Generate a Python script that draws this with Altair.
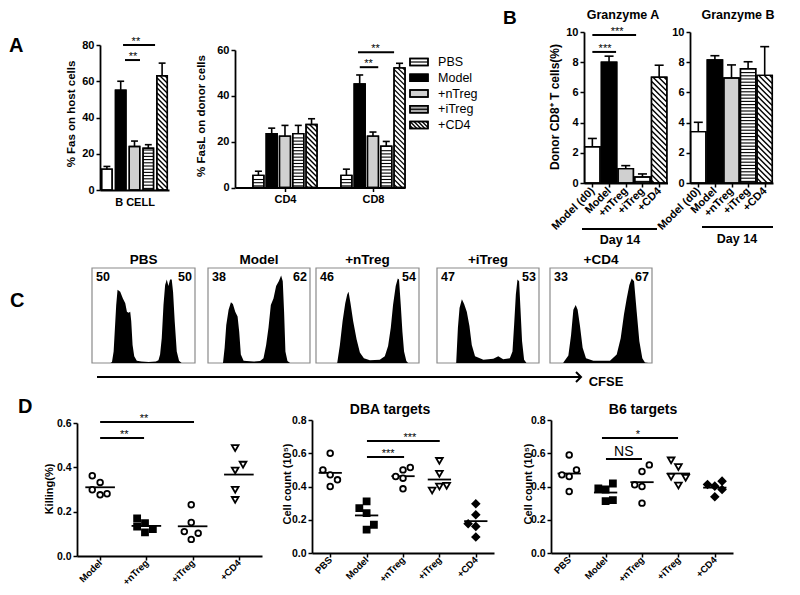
import altair as alt
import numpy as np
import pandas as pd

FONT = "Liberation Sans"
W, H = 784, 579

# ======================= values =======================
# ---- Panel A ----
bar_groups = ["PBS", "Model", "+nTreg", "+iTreg", "+CD4"]
fas_bcell_mean = [11.5, 55.0, 24.0, 23.0, 63.0]
fas_bcell_sem = [1.5, 5.0, 3.0, 2.0, 7.0]
fasl_subsets = ["CD4", "CD8"]
fasl_cd4_mean = [5.3, 23.5, 22.4, 23.5, 27.5]
fasl_cd4_sem = [1.8, 2.4, 4.7, 3.6, 2.5]
fasl_cd8_mean = [5.3, 45.2, 22.4, 18.0, 52.2]
fasl_cd8_sem = [2.7, 3.9, 1.8, 2.1, 2.0]

# ---- Panel B ----
gz_groups = ["Model (d0)", "Model", "+nTreg", "+iTreg", "+CD4"]
gza_mean = [2.4, 8.0, 0.95, 0.4, 7.0]
gza_sem = [0.55, 0.4, 0.2, 0.2, 0.8]
gzb_mean = [3.4, 8.15, 6.95, 7.57, 7.13]
gzb_sem = [0.62, 0.28, 0.87, 0.46, 1.9]

# ---- Panel C (CFSE histograms: position % of axis, height % of max) ----
cfse_titles = ["PBS", "Model", "+nTreg", "+iTreg", "+CD4"]
cfse_left_pct = [50, 38, 46, 47, 33]
cfse_right_pct = [50, 62, 54, 53, 67]
pbs_x = [18, 19.4, 21, 23.5, 24.8, 27.4, 30, 32.3, 33.9, 35.5, 37.1, 38.1, 39.4, 41, 43.5, 48,
         55, 62, 64.5, 66.1, 67.7, 69.4, 71, 72.6, 74.2, 75.8, 77.4, 78.7, 80.3, 82.3, 84.5, 87]
pbs_h = [0, 1, 12, 61, 77, 75, 68, 63, 54, 53, 54, 44, 19, 7, 2.5, 1.5,
         1, 1.5, 3, 9, 26, 61, 82, 88, 81, 88, 88, 75, 44, 12, 2.5, 0]
model_x = [14.7, 16.3, 17.9, 20.2, 22.5, 24.4, 26.7, 29, 30.6, 32.2, 34.9, 38, 44.6, 51.1,
           54.4, 57, 59.3, 61.6, 64.2, 66.8, 69.4, 71.7, 73.3, 74.6, 75.9, 77.9, 80.5]
model_h = [0, 16, 40, 56, 64, 62, 54, 49, 33, 9, 2.5, 2, 1.5, 2,
           5, 19, 37, 61, 68, 81, 86, 92, 86, 54, 12, 2, 0]
ntreg_x = [20.6, 23.2, 25.8, 28.4, 30.3, 31.6, 33.5, 36.1, 39.4, 42.6, 46.5, 52.3, 61.9,
           66.8, 70, 72.6, 74.8, 77.4, 79.4, 80.6, 82.3, 83.9, 85.5, 87.7, 89.4]
ntreg_h = [0, 19, 44, 63, 72, 75, 63, 44, 25, 11, 5, 3, 3.5,
           7, 18, 37, 61, 81, 89, 88, 61, 33, 12, 2, 0]
itreg_x = [18.8, 20.5, 22.1, 24.4, 26.6, 29.2, 31.8, 34.1, 37.3, 45.5, 55.2, 60.1, 64.9,
           71.4, 74, 75.6, 77.3, 78.9, 80.5, 81.8, 83.4, 85.4, 87.7]
itreg_h = [0, 37, 58, 67, 62, 54, 39, 19, 7, 3.5, 4.5, 7, 4,
           5, 12, 40, 72, 88, 86, 58, 23, 3.5, 0]
cd4_x = [13.1, 18, 20.6, 22.9, 25.2, 27.1, 29.4, 32, 35.3, 42.5, 58.8, 65.4, 69.3,
         72.5, 75.2, 77.8, 80.1, 82.4, 85, 87.6, 90.5, 93.1, 96.4]
cd4_h = [0.5, 8, 29, 56, 61, 56, 39, 16, 5, 2.5, 2.5, 9, 26,
         51, 68, 82, 89, 86, 54, 23, 5, 0.5, 0]

# ---- Panel D (values; dx = horizontal scatter within group, in group widths) ----
kill_groups = ["Model", "+nTreg", "+iTreg", "+CD4"]
kill_model = [0.362, 0.332, 0.299, 0.276, 0.281]
kill_model_dx = [-0.17, 0.0, -0.17, 0.0, 0.15]
kill_ntreg = [0.170, 0.148, 0.121, 0.133, 0.107]
kill_ntreg_dx = [-0.2, -0.03, 0.14, -0.2, -0.03]
kill_itreg = [0.231, 0.151, 0.110, 0.103, 0.075]
kill_itreg_dx = [-0.03, -0.03, -0.18, 0.12, -0.03]
kill_cd4 = [0.487, 0.412, 0.386, 0.299, 0.253]
kill_cd4_dx = [-0.08, 0.09, -0.08, -0.08, -0.08]

target_groups = ["PBS", "Model", "+nTreg", "+iTreg", "+CD4"]
dba_pbs = [0.60, 0.50, 0.47, 0.44, 0.40]
dba_pbs_dx = [0.0, -0.2, 0.0, 0.2, 0.0]
dba_model = [0.31, 0.27, 0.24, 0.17, 0.14]
dba_model_dx = [0.0, -0.2, 0.0, 0.2, 0.0]
dba_ntreg = [0.46, 0.50, 0.514, 0.45, 0.386]
dba_ntreg_dx = [-0.2, 0.0, 0.2, 0.0, 0.0]
dba_itreg = [0.554, 0.476, 0.40, 0.376, 0.404]
dba_itreg_dx = [0.0, 0.0, 0.0, -0.2, 0.2]
dba_cd4 = [0.296, 0.23, 0.176, 0.16, 0.096]
dba_cd4_dx = [0.0, 0.0, -0.21, 0.0, 0.0]

b6_pbs = [0.59, 0.47, 0.46, 0.50, 0.37]
b6_pbs_dx = [0.0, -0.2, 0.0, 0.2, 0.0]
b6_model = [0.388, 0.382, 0.418, 0.312, 0.318]
b6_model_dx = [-0.2, 0.0, 0.2, 0.0, 0.2]
b6_ntreg = [0.53, 0.49, 0.41, 0.40, 0.30]
b6_ntreg_dx = [0.2, 0.0, -0.2, 0.0, 0.0]
b6_itreg = [0.557, 0.517, 0.458, 0.452, 0.406]
b6_itreg_dx = [-0.2, 0.0, -0.2, 0.2, 0.0]
b6_cd4 = [0.412, 0.402, 0.432, 0.382, 0.338]
b6_cd4_dx = [-0.2, 0.0, 0.2, 0.2, 0.0]

# ============================ helpers ============================
def P(v):
    return v - 8.0


def qs(dom, r0, r1):
    return alt.Scale(domain=list(dom), range=[P(r0), P(r1)], nice=False, zero=False)


def label_expr(pairs):
    e = "''"
    for v, lab in reversed(pairs):
        e = "round(datum.value) == %d ? '%s' : (%s)" % (v, lab, e)
    return e


BASE_AX = dict(title=None, grid=False, domainColor="black", tickColor="black",
               labelColor="black", labelFont=FONT, labelFontWeight="bold",
               labelOverlap=False, labelFlush=False)


def y_axis(xpage, values, fmt, size=11):
    return alt.Axis(orient="left", offset=-P(xpage), values=values, format=fmt,
                    labelFontSize=size, domainWidth=1.8, tickWidth=1.5, tickSize=4,
                    labelPadding=2, **BASE_AX)


def x_axis(ypage, pairs, angle=0, ticks=True, size=11, pad=2):
    kw = dict(orient="bottom", offset=P(ypage) - H, values=[p[0] for p in pairs],
              labelExpr=label_expr(pairs), labelAngle=angle, labelFontSize=size,
              domainWidth=1.8, ticks=ticks, tickWidth=1.5, tickSize=4 if ticks else 0,
              labelPadding=pad)
    if angle != 0:
        kw.update(labelAlign="right", labelBaseline="middle")
    return alt.Axis(**kw, **BASE_AX)


def hline_rows(xl, xr, yt, yb, hpx, period):
    rows = []
    n = int(hpx // period)
    for k in range(n):
        ytop = hpx - (k + 0.5) * period
        rows.append({"a": xl, "b": xr, "y": yt + (yb - yt) * ytop / hpx})
    return rows


def diag_rows(xl, xr, yt, yb, wpx, hpx, period):
    rows = []
    k = -wpx + period / 2.0
    while k < hpx:
        xs, xe = max(0.0, -k), min(wpx, hpx - k)
        if xe > xs + 0.3:
            rows.append({"a": xl + (xr - xl) * xs / wpx, "b": xl + (xr - xl) * xe / wpx,
                         "ya": yt + (yb - yt) * (xs + k) / hpx,
                         "yb": yt + (yb - yt) * (xe + k) / hpx})
        k += period
    return rows


FILL = {"open": "white", "solid": "black", "gray": "#d0d0d0", "hline": "white", "diag": "white"}


def bar_panel(pos, means, sems, styles, xdom, xpx, ydom, ypx, hw, cap, xax, yax,
              hperiod=3.2, dperiod=5.0):
    xsc, ysc = qs(xdom, *xpx), qs(ydom, *ypx)
    ppx = (xpx[1] - xpx[0]) / (xdom[1] - xdom[0])
    ppy = (ypx[0] - ypx[1]) / (ydom[1] - ydom[0])
    df = pd.DataFrame({"pos": pos, "m": means, "s": sems, "style": styles})
    df["x0"], df["x1"] = df["pos"] - hw, df["pos"] + hw
    df["cl"], df["cr"] = df["pos"] - cap, df["pos"] + cap
    df["top"] = df["m"] + df["s"]
    df["base"] = 0.0
    df["fillc"] = df["style"].map(FILL)
    stripes, diags = [], []
    for r in df.itertuples():
        wpx, hpx = 2 * hw * ppx, r.m * ppy
        if r.style == "hline":
            stripes += hline_rows(r.x0, r.x1, r.m, 0.0, hpx, hperiod)
        if r.style == "diag":
            diags += diag_rows(r.x0, r.x1, r.m, 0.0, wpx, hpx, dperiod)
    out = [alt.Chart(df).mark_bar(stroke="black", strokeWidth=1.4).encode(
        x=alt.X("x0:Q", scale=xsc, axis=xax), x2="x1:Q",
        y=alt.Y("m:Q", scale=ysc, axis=yax), y2="base:Q",
        fill=alt.Fill("fillc:N", scale=None))]
    if stripes:
        out.append(alt.Chart(pd.DataFrame(stripes)).mark_rule(color="black", strokeWidth=1.1).encode(
            x=alt.X("a:Q", scale=xsc, axis=None), x2="b:Q", y=alt.Y("y:Q", scale=ysc, axis=None)))
    if diags:
        out.append(alt.Chart(pd.DataFrame(diags)).mark_rule(color="black", strokeWidth=1.4).encode(
            x=alt.X("a:Q", scale=xsc, axis=None), x2="b:Q",
            y=alt.Y("ya:Q", scale=ysc, axis=None), y2="yb:Q"))
    out.append(alt.Chart(df).mark_bar(fill="white", fillOpacity=0, stroke="black", strokeWidth=1.4).encode(
        x=alt.X("x0:Q", scale=xsc, axis=None), x2="x1:Q",
        y=alt.Y("m:Q", scale=ysc, axis=None), y2="base:Q"))
    out.append(alt.Chart(df).mark_rule(color="black", strokeWidth=1.6).encode(
        x=alt.X("pos:Q", scale=xsc, axis=None), y=alt.Y("m:Q", scale=ysc, axis=None), y2="top:Q"))
    out.append(alt.Chart(df).mark_rule(color="black", strokeWidth=1.6).encode(
        x=alt.X("cl:Q", scale=xsc, axis=None), x2="cr:Q", y=alt.Y("top:Q", scale=ysc, axis=None)))
    return out, xsc, ysc


def sig_layers(xsc, ysc, x1, x2, y, tx, ty, labels, size=11, weight="normal"):
    ln = pd.DataFrame({"a": x1, "b": x2, "y": y})
    tt = pd.DataFrame({"x": tx, "y": ty, "t": labels})
    return [
        alt.Chart(ln).mark_rule(color="black", strokeWidth=2).encode(
            x=alt.X("a:Q", scale=xsc, axis=None), x2="b:Q", y=alt.Y("y:Q", scale=ysc, axis=None)),
        alt.Chart(tt).mark_text(font=FONT, fontSize=size, fontWeight=weight, baseline="alphabetic",
                                align="center", color="black").encode(
            x=alt.X("x:Q", scale=xsc, axis=None), y=alt.Y("y:Q", scale=ysc, axis=None), text="t:N"),
    ]


def scatter_panel(labels, vals, dxs, markers, xpx, ypx, ydom, yvals):
    n = len(labels)
    xsc, ysc = qs((-0.5, n - 0.5), *xpx), qs(ydom, *ypx)
    rows = []
    for i in range(n):
        for v, d in zip(vals[i], dxs[i]):
            rows.append({"x": i + d, "v": v, "shape": markers[i][0],
                         "fillc": markers[i][1], "sz": markers[i][2]})
    pts = pd.DataFrame(rows)
    mdf = pd.DataFrame({"a": [i - 0.32 for i in range(n)], "b": [i + 0.32 for i in range(n)],
                        "m": [float(np.mean(v)) for v in vals]})
    xax = x_axis(ypx[0], list(enumerate(labels)), angle=-45, size=9.5, pad=1)
    yax = y_axis(xpx[0], yvals, ".1f", size=10.5)
    out = [
        alt.Chart(mdf).mark_rule(color="black", strokeWidth=1.8).encode(
            x=alt.X("a:Q", scale=xsc, axis=xax), x2="b:Q", y=alt.Y("m:Q", scale=ysc, axis=yax)),
        alt.Chart(pts).mark_point(color="black", stroke="black", strokeWidth=1.8, opacity=1,
                                  filled=False).encode(
            x=alt.X("x:Q", scale=xsc, axis=None), y=alt.Y("v:Q", scale=ysc, axis=None),
            shape=alt.Shape("shape:N", scale=None), fill=alt.Fill("fillc:N", scale=None),
            size=alt.Size("sz:Q", scale=None)),
    ]
    return out, xsc, ysc


one = pd.DataFrame({"k": [0]})


def note(text, x, y, size, weight="bold", align="center", baseline="middle", angle=0):
    return alt.Chart(one).mark_text(text=text, font=FONT, fontSize=size, fontWeight=weight,
                                    align=align, baseline=baseline, angle=angle, color="black").encode(
        x=alt.value(P(x)), y=alt.value(P(y)))


def seg(x1, x2, y, w=2.0):
    return alt.Chart(one).mark_rule(color="black", strokeWidth=w).encode(
        x=alt.value(P(x1)), x2=alt.value(P(x2)), y=alt.value(P(y)))


layers = []

# ============================ Panel A ============================
lay, xs_, ys_ = bar_panel(list(range(5)), fas_bcell_mean, fas_bcell_sem,
                          ["open", "solid", "gray", "hline", "diag"],
                          (-0.5, 4.5), (100, 169), (0, 80), (190, 45), 0.38, 0.25,
                          x_axis(190, [(2, "B CELL")], ticks=False, pad=6),
                          y_axis(100, [0, 20, 40, 60, 80], "d"))
layers += lay
layers += sig_layers(xs_, ys_, [1.17, 1.31], [3.49, 2.4], [80.0, 71.7], [2.1, 1.9],
                     [80.0, 71.7], ["**", "**"])

amid_pos = [g + (j - 2) * 0.151 for g in range(2) for j in range(5)]
lay, xs_, ys_ = bar_panel(amid_pos, fasl_cd4_mean + fasl_cd8_mean, fasl_cd4_sem + fasl_cd8_sem,
                          ["hline", "solid", "gray", "hline", "diag"] * 2,
                          (-0.568, 1.364), (235, 405), (0, 60), (187.5, 50), 0.0625, 0.04,
                          x_axis(187.5, list(enumerate(fasl_subsets)), pad=2),
                          y_axis(235, [0, 20, 40, 60], "d"))
layers += lay
layers += sig_layers(xs_, ys_, [0.83, 0.85], [1.24, 1.06], [59.0, 52.5], [1.03, 0.95],
                     [59.0, 52.5], ["**", "**"])

# legend
lxs, lys = qs((0, 1), 410, 428), qs((0, 4), 62, 125)
leg = pd.DataFrame({"i": list(range(5)), "lab": bar_groups,
                    "fillc": ["white", "black", "#d0d0d0", "#ababab", "white"]})
leg["a"], leg["b"] = 0.0, 1.0
leg["t0"], leg["t1"] = leg["i"] - 0.22, leg["i"] + 0.22
leg["tx"] = 1.56
layers.append(alt.Chart(leg).mark_rect(stroke="black", strokeWidth=1.4).encode(
    x=alt.X("a:Q", scale=lxs, axis=None), x2="b:Q", y=alt.Y("t0:Q", scale=lys, axis=None), y2="t1:Q",
    fill=alt.Fill("fillc:N", scale=None)))
mid = leg[leg["i"].isin([0, 3])]
layers.append(alt.Chart(mid).mark_rule(color="black", strokeWidth=1.2).encode(
    x=alt.X("a:Q", scale=lxs, axis=None), x2="b:Q", y=alt.Y("i:Q", scale=lys, axis=None)))
layers.append(alt.Chart(pd.DataFrame(diag_rows(0.0, 1.0, 4 - 0.22, 4 + 0.22, 18, 6.9, 4.0))).mark_rule(
    color="black", strokeWidth=1.3).encode(
    x=alt.X("a:Q", scale=lxs, axis=None), x2="b:Q", y=alt.Y("ya:Q", scale=lys, axis=None), y2="yb:Q"))
layers.append(alt.Chart(leg).mark_rect(fillOpacity=0, stroke="black", strokeWidth=1.4).encode(
    x=alt.X("a:Q", scale=lxs, axis=None), x2="b:Q", y=alt.Y("t0:Q", scale=lys, axis=None), y2="t1:Q"))
layers.append(alt.Chart(leg).mark_text(font=FONT, fontSize=12.5, align="left", baseline="middle",
                                       color="black").encode(
    x=alt.X("tx:Q", scale=lxs, axis=None), y=alt.Y("i:Q", scale=lys, axis=None), text="lab:N"))

layers.append(note("A", 9, 52, 20, align="left", baseline="alphabetic"))
layers.append(note("% Fas on host cells", 72, 114, 11.5, angle=270))
layers.append(note("% FasL on donor cells", 202, 116, 11.5, angle=270))

# ============================ Panel B ============================
lay, xs_, ys_ = bar_panel(list(range(5)), gza_mean, gza_sem, ["open", "solid", "gray", "hline", "diag"],
                          (-0.5, 4.5), (584, 667.5), (0, 10), (183, 32), 0.46, 0.27,
                          x_axis(183, list(enumerate(gz_groups)), angle=-45, size=11),
                          y_axis(584, [0, 2, 4, 6, 8, 10], "d"), dperiod=5.5)
layers += lay
layers += sig_layers(xs_, ys_, [0.0, 0.0], [2.62, 1.42], [9.8, 8.68], [1.48, 0.76],
                     [9.8, 8.68], ["***", "***"])
lay, xs_, ys_ = bar_panel(list(range(5)), gzb_mean, gzb_sem, ["open", "solid", "gray", "hline", "diag"],
                          (-0.5, 4.5), (690, 773), (0, 10), (183, 32), 0.46, 0.27,
                          x_axis(183, list(enumerate(gz_groups)), angle=-45, size=11),
                          y_axis(690, [0, 2, 4, 6, 8, 10], "d"), dperiod=5.5)
layers += lay
layers.append(note("B", 503, 24, 19, align="left", baseline="alphabetic"))
layers.append(note("Granzyme A", 623, 19, 12.5, baseline="alphabetic"))
layers.append(note("Granzyme B", 738, 19, 12.5, baseline="alphabetic"))
layers.append(note("Donor CD8\u207a T cells(%)", 555, 107, 12, angle=270))
layers.append(seg(582, 657, 229))
layers.append(seg(702, 773, 227))
layers.append(note("Day 14", 620, 240, 12.5))
layers.append(note("Day 14", 737, 239, 12.5))

# ============================ Panel C ============================
box_x = [(92, 195), (208, 310), (316, 419), (437, 539), (550, 652)]
profiles = [(pbs_x, pbs_h), (model_x, model_h), (ntreg_x, ntreg_h), (itreg_x, itreg_h), (cd4_x, cd4_h)]
for (x0, x1), (hx, hh), ttl, lp, rp in zip(box_x, profiles, cfse_titles, cfse_left_pct, cfse_right_pct):
    xsc, ysc = qs((0, 100), x0, x1), qs((0, 100), 363, 268)
    box = pd.DataFrame({"a": [0.0], "b": [100.0], "c": [0.0], "d": [100.0]})
    layers.append(alt.Chart(box).mark_rect(fill="white", stroke="#8a8a8a", strokeWidth=1.2).encode(
        x=alt.X("a:Q", scale=xsc, axis=None), x2="b:Q", y=alt.Y("c:Q", scale=ysc, axis=None), y2="d:Q"))
    hd = pd.DataFrame({"x": hx, "h": hh})
    hd["base"] = 0.0
    layers.append(alt.Chart(hd).mark_area(color="black", interpolate="linear").encode(
        x=alt.X("x:Q", scale=xsc, axis=None), y=alt.Y("h:Q", scale=ysc, axis=None), y2="base:Q"))
    for tx, ty, t, al, sz in [(50, 108.4, ttl, "center", 13.5), (4, 90.5, str(lp), "left", 12.5),
                              (97, 90.5, str(rp), "right", 12.5)]:
        td = pd.DataFrame({"x": [float(tx)], "y": [ty], "t": [t]})
        layers.append(alt.Chart(td).mark_text(font=FONT, fontSize=sz, fontWeight="bold", align=al,
                                              baseline="middle", color="black").encode(
            x=alt.X("x:Q", scale=xsc, axis=None), y=alt.Y("y:Q", scale=ysc, axis=None), text="t:N"))

layers.append(note("C", 10, 307, 20, align="left", baseline="alphabetic"))
layers.append(seg(97, 580, 377, 2.2))
layers.append(alt.Chart(one).mark_point(shape="M -1 -1 L 0 0 L -1 1", filled=False, color="black",
                                        strokeWidth=2, size=100, opacity=1).encode(
    x=alt.value(P(581)), y=alt.value(P(377))))
layers.append(note("CFSE", 606, 382, 13))

# ============================ Panel D ============================
kill_markers = [("circle", "white", 32), ("square", "black", 36), ("circle", "white", 32),
                ("triangle-down", "white", 45)]
target_markers = [("circle", "white", 32), ("square", "black", 36), ("circle", "white", 32),
                  ("triangle-down", "white", 45), ("diamond", "black", 50)]

lay, xs_, ys_ = scatter_panel(kill_groups, [kill_model, kill_ntreg, kill_itreg, kill_cd4],
                              [kill_model_dx, kill_ntreg_dx, kill_itreg_dx, kill_cd4_dx],
                              kill_markers, (77, 262), (556, 423), (0, 0.6), [0, 0.2, 0.4, 0.6])
layers += lay
layers += sig_layers(xs_, ys_, [0.0, 0.0], [2.03, 0.95], [0.604, 0.532], [0.95, 0.52],
                     [0.604, 0.532], ["**", "**"])

lay, xs_, ys_ = scatter_panel(target_groups, [dba_pbs, dba_model, dba_ntreg, dba_itreg, dba_cd4],
                              [dba_pbs_dx, dba_model_dx, dba_ntreg_dx, dba_itreg_dx, dba_cd4_dx],
                              target_markers, (312, 494), (553, 420), (0, 0.8), [0, 0.2, 0.4, 0.6, 0.8])
layers += lay
layers += sig_layers(xs_, ys_, [1.01, 1.01], [3.01, 2.03], [0.674, 0.577], [2.19, 1.59],
                     [0.674, 0.577], ["***", "***"])

lay, xs_, ys_ = scatter_panel(target_groups, [b6_pbs, b6_model, b6_ntreg, b6_itreg, b6_cd4],
                              [b6_pbs_dx, b6_model_dx, b6_ntreg_dx, b6_itreg_dx, b6_cd4_dx],
                              target_markers, (551, 733), (553, 420), (0, 0.8), [0, 0.2, 0.4, 0.6, 0.8])
layers += lay
layers += sig_layers(xs_, ys_, [0.90], [2.99], [0.692], [1.89], [0.692], ["*"])
layers += sig_layers(xs_, ys_, [1.01], [2.0], [0.565], [1.5], [0.586], ["NS"], size=14)

layers.append(note("D", 18, 413, 20, align="left", baseline="alphabetic"))
layers.append(note("Killing(%)", 50, 489, 11, angle=270))
layers.append(note("Cell count (10\u2075)", 288, 484, 11, angle=270))
layers.append(note("Cell count (10\u2075)", 529, 484, 11, angle=270))
layers.append(note("DBA  targets", 390, 410, 14))
layers.append(note("B6 targets", 643, 410, 14))

chart = alt.layer(*layers).resolve_scale(x="independent", y="independent").properties(
    width=W, height=H, autosize=alt.AutoSizeParams(type="none"), padding=0, background="white"
).configure_view(stroke=None)

chart.save("out.html", embed_options={"renderer": "svg", "actions": False})
